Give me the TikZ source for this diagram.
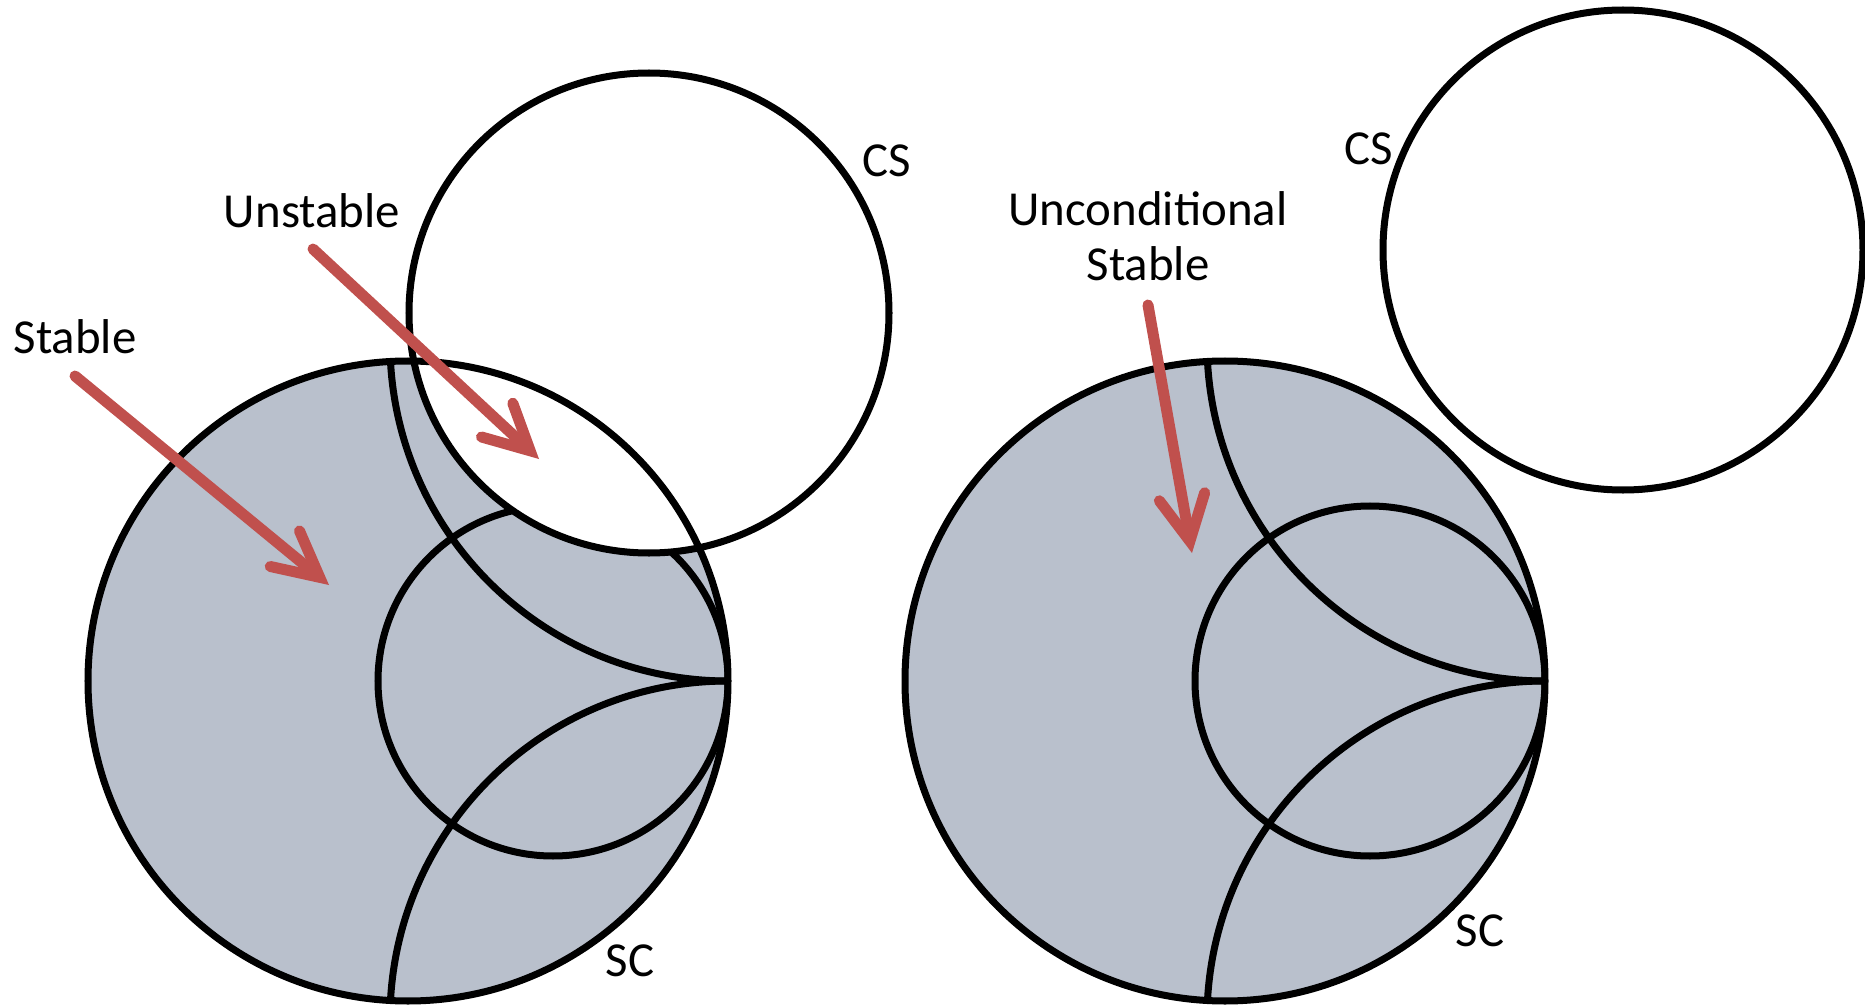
\documentclass[tikz,border=0pt]{standalone}
\usepackage{fontspec}
\setmainfont{Carlito}
\usetikzlibrary{arrows.meta}
\definecolor{chartgray}{RGB}{185,192,204}
\definecolor{arrowred}{RGB}{192,80,77}

\begin{document}
\begin{tikzpicture}[
    x=0.01cm, y=-0.01cm,
    chart/.style={draw=black, line width=0.07cm},
    lbl/.style={font=\fontsize{13.9}{15.6}\selectfont, inner sep=0pt, anchor=base},
    pointer/.style={draw=arrowred, line width=0.11cm, line cap=round,
                    -{Straight Barb[length=0.45cm, width=0.46cm,
                                    line join=miter, line cap=round]}}
  ]
  \useasboundingbox (0,0) rectangle (1865,1006);

  % the two smith charts
  \foreach \cx in {408,1225} {
    \fill[chartgray] (\cx,681) circle[radius=320];
    \begin{scope}
      \clip (\cx,681) circle[radius=320];
      \draw[chart] (\cx+145,681) circle[radius=175];
      \draw[chart] (\cx+320,343) circle[radius=338];
      \draw[chart] (\cx+320,1019) circle[radius=338];
    \end{scope}
  }

  % stability circles
  \draw[chart, fill=white] (649,313) circle[radius=240];
  \draw[chart, fill=white] (1623,250) circle[radius=240];

  \draw[chart] (408,681) circle[radius=320];
  \draw[chart] (1225,681) circle[radius=320];

  \node[lbl] (stable)   at (75,353)  {Stable};
  \node[lbl] (unstable) at (312,227) {Unstable};
  \node[lbl] (csleft)   at (887,176) {CS};
  \node[lbl] (scleft)   at (630,976) {SC};
  \node[lbl, align=center] (uncond) at (1148,280) {Unconditional\\Stable};
  \node[lbl] (csright)  at (1369,164) {CS};
  \node[lbl] (scright)  at (1480,946) {SC};

  \coordinate (stabletail)   at (75,376);
  \coordinate (stablehead)   at (329,585);
  \coordinate (unstabletail) at (313,249);
  \coordinate (unstablehead) at (539,459);
  \coordinate (uncondtail)   at (1148,305);
  \coordinate (uncondhead)   at (1192,553);

  \draw[pointer] (stabletail) -- (stablehead);
  \draw[pointer] (unstabletail) -- (unstablehead);
  \draw[pointer] (uncondtail) -- (uncondhead);
\end{tikzpicture}
\end{document}
